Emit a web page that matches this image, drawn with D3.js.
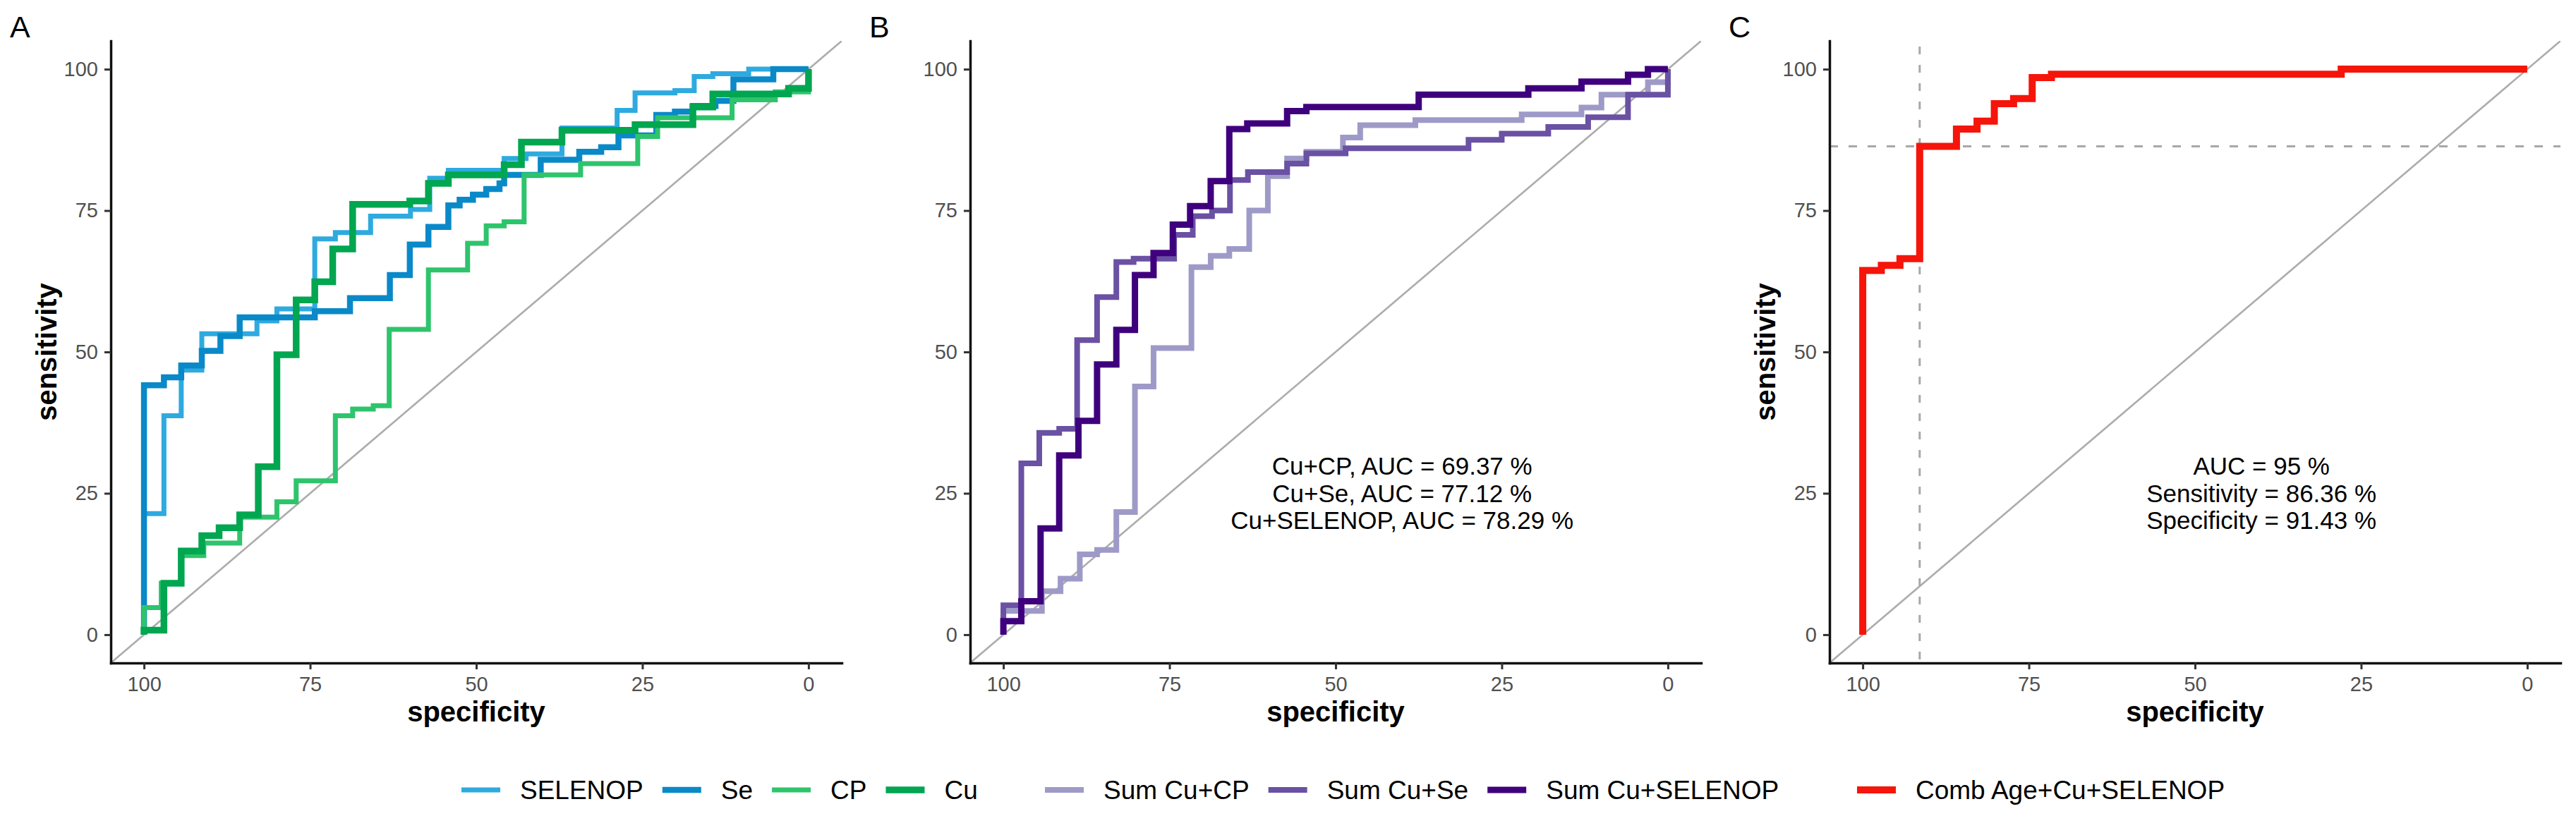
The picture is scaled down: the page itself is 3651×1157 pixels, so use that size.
<!DOCTYPE html>
<html><head><meta charset="utf-8">
<script src="https://cdn.jsdelivr.net/npm/d3@7"></script>
<style>body{margin:0;background:#fff;} svg{display:block;}</style>
</head><body>
<svg id="chart" width="3651" height="1157"></svg>
<script>
// ---------- data (specificity %, sensitivity % at each step) ----------
const specTicks = [100, 75, 50, 25, 0];
const sensTicks = [0, 25, 50, 75, 100];
const panelLabels = ["A", "B", "C"];

const rocSELENOP = [[100,21.4],[97.0,38.7],[94.4,46.8],[91.3,53.2],[83.0,55.5],[80.0,57.6],[74.3,70.0],[71.2,71.1],[65.9,74.0],[59.9,75.2],[57.0,80.7],[54.2,82.1],[45.8,84.2],[42.5,85.0],[37.1,89.6],[28.8,92.7],[26.1,95.8],[20.1,96.2],[17.2,98.7],[14.4,99.2],[9.0,100],[0,100]];
const rocSe = [[100,44.1],[97.0,45.5],[94.4,47.6],[91.3,50.2],[88.5,52.8],[85.6,56.1],[74.3,57.2],[69.0,59.5],[63.0,63.6],[60.0,69.0],[57.2,72.1],[54.2,75.9],[52.5,76.9],[50.5,77.8],[48.5,78.8],[46.5,79.8],[45.8,81.3],[40.3,84.0],[34.5,85.4],[31.2,86.2],[28.6,88.3],[22.9,91.9],[20.1,92.5],[17.4,93.5],[14.0,94.4],[11.3,98.2],[5.3,100],[0,100]];
const rocCP = [[100,4.8],[97.4,9.1],[94.4,14.0],[91.0,16.2],[85.6,20.8],[80.0,23.5],[77.1,27.2],[71.2,38.7],[68.6,39.9],[65.5,40.5],[63.1,54.0],[57.2,64.5],[51.3,69.2],[48.5,72.3],[45.8,73.0],[42.8,81.3],[34.3,83.3],[25.7,88.1],[22.7,91.4],[11.5,94.6],[5,96],[0,100]];
const rocCu = [[100,0.8],[97.0,9.1],[94.4,14.8],[91.3,17.5],[88.7,18.9],[85.6,21.2],[82.8,29.7],[80.0,49.5],[77.1,59.2],[74.3,62.4],[71.6,68.2],[68.6,76.1],[60.0,76.7],[57.2,79.8],[54.2,81.3],[45.8,83.1],[43.2,87.1],[37.1,89.2],[26.1,90.2],[17.4,93.3],[14.4,95.6],[3,96.6],[0,100]];

const rocSumCuCP = [[100,4.2],[94.2,7.7],[91.4,9.9],[88.5,14.2],[85.9,15.0],[83.0,21.7],[80.2,43.9],[77.4,50.7],[71.7,65.0],[68.8,67.0],[66.0,68.2],[63.0,75.0],[60.2,81.1],[57.3,84.2],[54.4,85.4],[48.9,87.9],[46.3,90.1],[38,91.0],[22,92.0],[13,93.2],[10,95.5],[3,97.7],[0,100]];
const rocSumCuSe = [[100,5.2],[97.3,30.3],[94.6,35.7],[91.6,36.4],[88.9,52.1],[85.9,59.7],[83.0,65.9],[80.4,66.5],[74.3,70.7],[71.5,74.0],[68.6,75.0],[65.9,80.4],[63.2,81.8],[57.3,83.3],[54.4,85.1],[48.5,86.0],[30,87.5],[25,88.6],[18,89.8],[12,91.5],[6,95.5],[0,100]];
const rocSumCuSELENOP = [[100,2.4],[97.3,5.9],[94.4,18.8],[91.6,31.7],[88.7,37.8],[85.9,47.8],[83.0,53.9],[80.2,63.6],[77.4,67.5],[74.5,72.5],[71.9,75.8],[68.8,80.2],[66.0,89.4],[63.3,90.4],[57.3,92.6],[54.4,93.3],[37.5,95.5],[21,96.6],[13,97.8],[6,99],[3,100],[0,100]];

const rocComb = [[100,64.4],[97.2,65.3],[94.4,66.5],[91.43,86.36],[85.9,89.4],[82.8,90.8],[80.2,93.9],[77.3,94.8],[74.5,98.5],[71.6,99.1],[28.0,100],[0,100]];

const cutSpec = 91.43, cutSens = 86.36;
const annotB = ["Cu+CP, AUC = 69.37 %", "Cu+Se, AUC = 77.12 %", "Cu+SELENOP, AUC = 78.29 %"];
const annotC = ["AUC = 95 %", "Sensitivity = 86.36 %", "Specificity = 91.43 %"];

const namesA = ["SELENOP", "Se", "CP", "Cu"];
const namesB = ["Sum Cu+CP", "Sum Cu+Se", "Sum Cu+SELENOP"];
const namesC = ["Comb Age+Cu+SELENOP"];
const colorsA = ["#2eaadf", "#0a89c8", "#2ec46c", "#00a650"];
const colorsB = ["#9e9ac8", "#6a51a3", "#3f007d"];
const colorsC = ["#f5150b"];
const widthsA = [7, 8.5, 7, 9.5];
const widthsB = [8, 8, 9];
const widthsC = [10];

// ---------- layout ----------
const FONT = "'Liberation Sans', Arial, Helvetica, sans-serif";
const svg = d3.select("#chart");
const panelLeft = [157, 1375, 2593];
const plotW = 1036, plotTop = 58, plotBottom = 940;

const panels = [
  {series: [rocSELENOP, rocSe, rocCP, rocCu], colors: colorsA, widths: widthsA, ytitle: true},
  {series: [rocSumCuCP, rocSumCuSe, rocSumCuSELENOP], colors: colorsB, widths: widthsB, ytitle: false, annot: annotB},
  {series: [rocComb], colors: colorsC, widths: widthsC, ytitle: true, annot: annotC, cut: true}
];

panels.forEach((p, i) => {
  const left = panelLeft[i];
  const x = d3.scaleLinear().domain([105, -5]).range([left, left + plotW]);
  const y = d3.scaleLinear().domain([-5, 105]).range([plotBottom, plotTop]);
  const g = svg.append("g");

  const clipId = "clip" + i;
  svg.append("clipPath").attr("id", clipId).append("rect")
    .attr("x", left).attr("y", plotTop).attr("width", plotW).attr("height", plotBottom - plotTop);

  // diagonal reference
  g.append("line").attr("clip-path", `url(#${clipId})`)
    .attr("x1", x(105)).attr("y1", y(-5)).attr("x2", x(-5)).attr("y2", y(105))
    .attr("stroke", "#acacac").attr("stroke-width", 2.6);

  // cutoff dashed lines
  if (p.cut) {
    g.append("line").attr("x1", x(cutSpec)).attr("x2", x(cutSpec)).attr("y1", y(104)).attr("y2", y(-5))
      .attr("stroke", "#a8a8a8").attr("stroke-width", 3).attr("stroke-dasharray", "11,15");
    g.append("line").attr("x1", x(105)).attr("x2", x(-5)).attr("y1", y(cutSens)).attr("y2", y(cutSens))
      .attr("stroke", "#a8a8a8").attr("stroke-width", 3).attr("stroke-dasharray", "12,15");
  }

  const line = d3.line().x(d => x(d[0])).y(d => y(d[1])).curve(d3.curveStepAfter);
  p.series.forEach((s, k) => {
    g.append("path").datum([[100, 0]].concat(s))
      .attr("d", line).attr("fill", "none")
      .attr("stroke", p.colors[k]).attr("stroke-width", p.widths[k])
      .attr("stroke-linejoin", "miter").attr("stroke-linecap", "butt");
  });

  // axes
  const xa = g.append("g").attr("transform", `translate(0,${plotBottom})`)
    .call(d3.axisBottom(x).tickValues(specTicks).tickSize(9).tickSizeOuter(0).tickPadding(10));
  const ya = g.append("g").attr("transform", `translate(${left},0)`)
    .call(d3.axisLeft(y).tickValues(sensTicks).tickSize(9).tickSizeOuter(0).tickPadding(9));
  [xa, ya].forEach(a => {
    a.select(".domain").attr("stroke", "#111").attr("stroke-width", 3.5).attr("stroke-linecap", "square");
    a.selectAll(".tick line").attr("stroke", "#333").attr("stroke-width", 3);
    a.selectAll(".tick text").attr("fill", "#505050").style("font-family", FONT).style("font-size", "29px");
  });

  // titles
  g.append("text").attr("x", left + plotW / 2).attr("y", 1023).attr("text-anchor", "middle")
    .style("font-family", FONT).style("font-size", "40px").style("font-weight", "bold").text("specificity");
  if (p.ytitle) {
    g.append("text").attr("transform", `translate(${left - 77},${(plotTop + plotBottom) / 2}) rotate(-90)`)
      .attr("text-anchor", "middle")
      .style("font-family", FONT).style("font-size", "40px").style("font-weight", "bold").text("sensitivity");
  }
  g.append("text").attr("x", left - 143).attr("y", 53)
    .style("font-family", FONT).style("font-size", "43px").text(panelLabels[i]);

  if (p.annot) {
    p.annot.forEach((t, k) => {
      g.append("text").attr("x", x(40)).attr("y", y(25) + (k - 1) * 38.5).attr("dy", "0.35em")
        .attr("text-anchor", "middle").style("font-family", FONT).style("font-size", "35px").text(t);
    });
  }
});

// ---------- legend ----------
const legendGroups = [
  {start: 654, names: namesA, colors: colorsA, widths: widthsA},
  {start: 1481, names: namesB, colors: colorsB, widths: widthsB},
  {start: 2632, names: namesC, colors: colorsC, widths: widthsC}
];
const legY = 1120;
const lg = svg.append("g");
legendGroups.forEach(grp => {
  let cx = grp.start;
  grp.names.forEach((n, k) => {
    lg.append("line").attr("x1", cx).attr("x2", cx + 55).attr("y1", legY).attr("y2", legY)
      .attr("stroke", grp.colors[k]).attr("stroke-width", grp.widths[k]);
    const t = lg.append("text").attr("x", cx + 83).attr("y", legY + 13)
      .style("font-family", FONT).style("font-size", "37px").text(n);
    const w = t.node().getComputedTextLength();
    cx = cx + 83 + w + 27;
  });
});
</script>
</body></html>
